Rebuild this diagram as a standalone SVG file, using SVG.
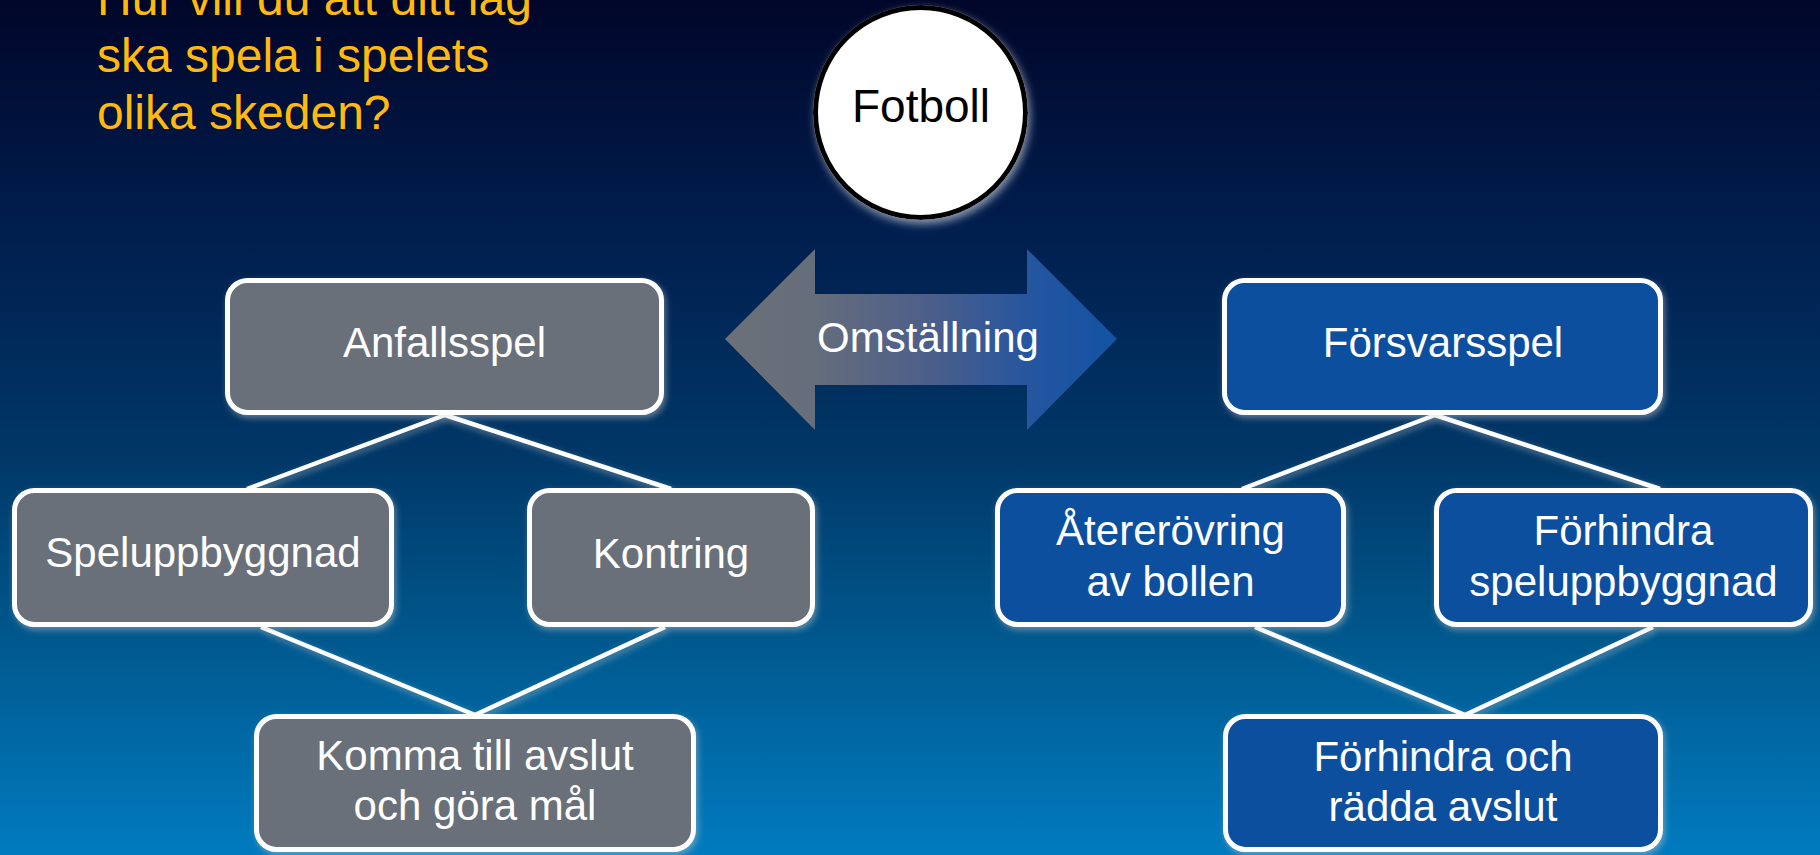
<svg xmlns="http://www.w3.org/2000/svg" width="1820" height="855" viewBox="0 0 1820 855">
  <defs>
    <linearGradient id="bg" x1="0" y1="0" x2="0" y2="1">
      <stop offset="0" stop-color="#000629"/>
      <stop offset="0.25" stop-color="#001c4c"/>
      <stop offset="0.53" stop-color="#003767"/>
      <stop offset="0.76" stop-color="#005a90"/>
      <stop offset="1" stop-color="#007bbf"/>
    </linearGradient>
    <linearGradient id="arrowGrad" gradientUnits="userSpaceOnUse" x1="725" y1="0" x2="1117" y2="0">
      <stop offset="0" stop-color="#6b7079"/>
      <stop offset="0.22" stop-color="#666e7b"/>
      <stop offset="0.5" stop-color="#4e5f89"/>
      <stop offset="0.8" stop-color="#2355a0"/>
      <stop offset="1" stop-color="#1352a3"/>
    </linearGradient>
    <filter id="shadow" x="-20%" y="-20%" width="140%" height="150%">
      <feDropShadow dx="2" dy="3" stdDeviation="3" flood-color="#d0d0d0" flood-opacity="0.45"/>
    </filter>
    <filter id="glow" x="-20%" y="-20%" width="140%" height="140%">
      <feDropShadow dx="2" dy="4" stdDeviation="4" flood-color="#ffffff" flood-opacity="0.55"/>
    </filter>
  </defs>
  <style>
    .box { stroke: #ffffff; stroke-width: 5; filter: url(#shadow); }
    .gray { fill: #6a7079; }
    .blue { fill: #0e4f9f; }
    .lbl { font-family: "Liberation Sans", Arial, sans-serif; font-size: 42px; fill: #ffffff; text-anchor: middle; }
    .conn { stroke: #ffffff; stroke-width: 4.5; fill: none; filter: url(#shadow); }
    .title { font-family: "Liberation Sans", Arial, sans-serif; font-size: 48px; fill: #ffb90f; }
  </style>

  <rect x="0" y="0" width="1820" height="855" fill="url(#bg)"/>

  <g id="title">
    <text class="title" x="97" y="15">Hur vill du att ditt lag</text>
    <text class="title" x="97" y="72">ska spela i spelets</text>
    <text class="title" x="97" y="129">olika skeden?</text>
  </g>

  <g id="connectors">
    <line class="conn" x1="445" y1="415" x2="247" y2="489"/>
    <line class="conn" x1="445" y1="415" x2="671" y2="489"/>
    <line class="conn" x1="261" y1="627" x2="475" y2="715"/>
    <line class="conn" x1="665" y1="627" x2="475" y2="715"/>
    <line class="conn" x1="1435" y1="415" x2="1242" y2="489"/>
    <line class="conn" x1="1435" y1="415" x2="1660" y2="489"/>
    <line class="conn" x1="1255" y1="627" x2="1465" y2="715"/>
    <line class="conn" x1="1653" y1="627" x2="1465" y2="715"/>
  </g>

  <g id="fotboll">
    <circle cx="920.5" cy="112.5" r="105" fill="#ffffff" stroke="#000000" stroke-width="5" filter="url(#glow)"/>
    <text x="921" y="122" font-family="Liberation Sans, Arial, sans-serif" font-size="46" fill="#000000" text-anchor="middle">Fotboll</text>
  </g>

  <g id="omstallning">
    <polygon points="725,339 815,249 815,294 1027,294 1027,249 1117,339 1027,430 1027,385 815,385 815,430" fill="url(#arrowGrad)"/>
    <text class="lbl" x="928" y="352">Omställning</text>
  </g>

  <g id="anfallsspel">
    <rect class="box gray" x="227.5" y="280.5" width="434" height="132" rx="20"/>
    <text class="lbl" x="444.5" y="357">Anfallsspel</text>
  </g>

  <g id="speluppbyggnad">
    <rect class="box gray" x="14.5" y="490.5" width="377" height="134" rx="20"/>
    <text class="lbl" x="203" y="567">Speluppbyggnad</text>
  </g>

  <g id="kontring">
    <rect class="box gray" x="529.5" y="490.5" width="283" height="134" rx="20"/>
    <text class="lbl" x="671" y="568">Kontring</text>
  </g>

  <g id="komma">
    <rect class="box gray" x="256.5" y="716.5" width="437" height="133" rx="20"/>
    <text class="lbl" x="475" y="770">Komma till avslut</text>
    <text class="lbl" x="475" y="820">och göra mål</text>
  </g>

  <g id="forsvarsspel">
    <rect class="box blue" x="1224.5" y="280.5" width="436" height="132" rx="20"/>
    <text class="lbl" x="1443" y="357">Försvarsspel</text>
  </g>

  <g id="atererovring">
    <rect class="box blue" x="997.5" y="490.5" width="346" height="134" rx="20"/>
    <text class="lbl" x="1170.5" y="545">Återerövring</text>
    <text class="lbl" x="1170.5" y="596">av bollen</text>
  </g>

  <g id="forhindra-spel">
    <rect class="box blue" x="1436.5" y="490.5" width="374" height="134" rx="20"/>
    <text class="lbl" x="1623.5" y="545">Förhindra</text>
    <text class="lbl" x="1623.5" y="596">speluppbyggnad</text>
  </g>

  <g id="forhindra-avslut">
    <rect class="box blue" x="1225.5" y="716.5" width="435" height="133" rx="20"/>
    <text class="lbl" x="1443" y="771">Förhindra och</text>
    <text class="lbl" x="1443" y="821">rädda avslut</text>
  </g>
</svg>
